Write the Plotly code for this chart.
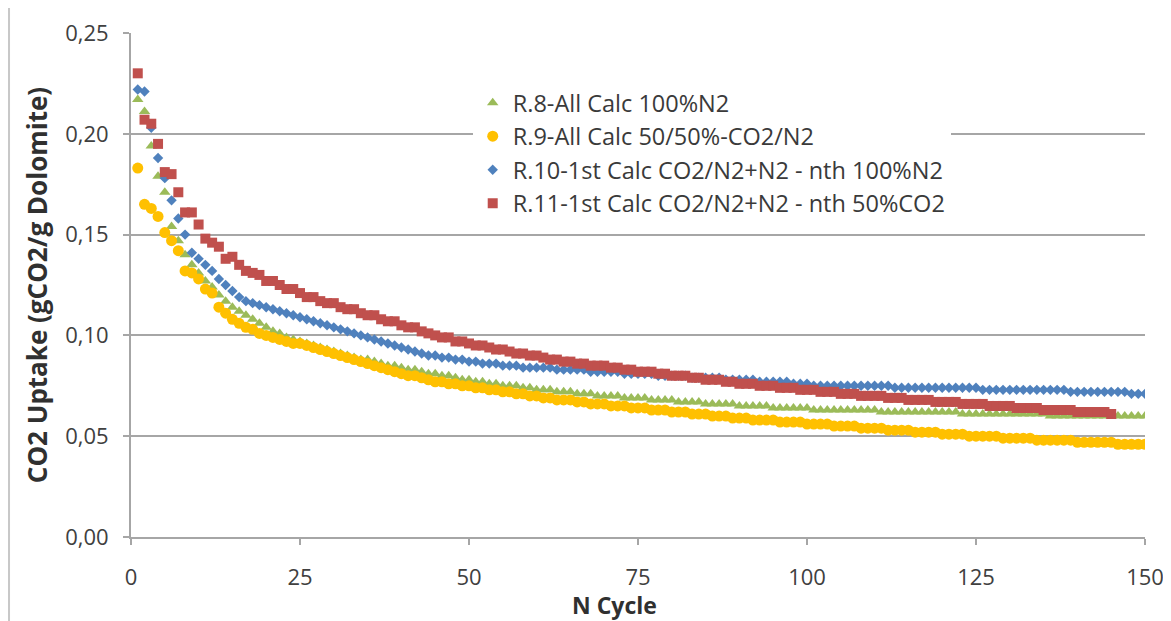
import plotly.graph_objects as go

cycles = list(range(1, 151))

r8_all_calc_100n2 = [
    0.217, 0.211, 0.194, 0.179, 0.171, 0.154, 0.147, 0.140, 0.135, 0.131,
    0.127, 0.124, 0.120, 0.117, 0.114, 0.112, 0.110, 0.108, 0.106, 0.104,
    0.102, 0.101, 0.099, 0.098, 0.097, 0.096, 0.095, 0.094, 0.093, 0.092,
    0.091, 0.090, 0.089, 0.088, 0.088, 0.087, 0.086, 0.085, 0.085, 0.084,
    0.083, 0.083, 0.082, 0.081, 0.081, 0.080, 0.080, 0.079, 0.078, 0.078,
    0.077, 0.077, 0.076, 0.076, 0.075, 0.075, 0.075, 0.074, 0.074, 0.073,
    0.073, 0.073, 0.072, 0.072, 0.072, 0.071, 0.071, 0.071, 0.070, 0.070,
    0.070, 0.070, 0.069, 0.069, 0.069, 0.069, 0.068, 0.068, 0.068, 0.068,
    0.067, 0.067, 0.067, 0.067, 0.066, 0.066, 0.066, 0.066, 0.066, 0.065,
    0.065, 0.065, 0.065, 0.065, 0.064, 0.064, 0.064, 0.064, 0.064, 0.064,
    0.063, 0.063, 0.063, 0.063, 0.063, 0.063, 0.063, 0.063, 0.063, 0.063,
    0.062, 0.062, 0.062, 0.062, 0.062, 0.062, 0.062, 0.062, 0.062, 0.062,
    0.062, 0.062, 0.061, 0.061, 0.061, 0.061, 0.061, 0.061, 0.061, 0.061,
    0.061, 0.061, 0.061, 0.061, 0.061, 0.060, 0.060, 0.060, 0.060, 0.060,
    0.060, 0.060, 0.060, 0.060, 0.060, 0.060, 0.060, 0.060, 0.060, 0.060,
]

r9_all_calc_5050 = [
    0.183, 0.165, 0.163, 0.159, 0.151, 0.147, 0.142, 0.132, 0.131, 0.128,
    0.123, 0.121, 0.114, 0.111, 0.108, 0.106, 0.104, 0.103, 0.101, 0.100,
    0.099, 0.098, 0.097, 0.096, 0.096, 0.095, 0.094, 0.093, 0.092, 0.091,
    0.090, 0.089, 0.088, 0.087, 0.086, 0.085, 0.084, 0.083, 0.082, 0.081,
    0.080, 0.080, 0.079, 0.078, 0.077, 0.077, 0.076, 0.076, 0.075, 0.075,
    0.074, 0.074, 0.073, 0.073, 0.072, 0.072, 0.071, 0.071, 0.070, 0.070,
    0.069, 0.069, 0.068, 0.068, 0.068, 0.067, 0.067, 0.066, 0.066, 0.066,
    0.065, 0.065, 0.065, 0.064, 0.064, 0.064, 0.063, 0.063, 0.063, 0.062,
    0.062, 0.062, 0.061, 0.061, 0.061, 0.060, 0.060, 0.060, 0.059, 0.059,
    0.059, 0.058, 0.058, 0.058, 0.058, 0.057, 0.057, 0.057, 0.057, 0.056,
    0.056, 0.056, 0.056, 0.055, 0.055, 0.055, 0.055, 0.054, 0.054, 0.054,
    0.054, 0.053, 0.053, 0.053, 0.053, 0.052, 0.052, 0.052, 0.052, 0.051,
    0.051, 0.051, 0.051, 0.050, 0.050, 0.050, 0.050, 0.050, 0.049, 0.049,
    0.049, 0.049, 0.049, 0.048, 0.048, 0.048, 0.048, 0.048, 0.048, 0.047,
    0.047, 0.047, 0.047, 0.047, 0.047, 0.046, 0.046, 0.046, 0.046, 0.046,
]

r10_first_co2n2_nth_100n2 = [
    0.222, 0.221, 0.203, 0.188, 0.178, 0.167, 0.158, 0.150, 0.141, 0.138,
    0.135, 0.132, 0.128, 0.125, 0.122, 0.119, 0.117, 0.116, 0.115, 0.114,
    0.113, 0.112, 0.111, 0.110, 0.109, 0.108, 0.107, 0.106, 0.105, 0.104,
    0.103, 0.102, 0.101, 0.100, 0.099, 0.098, 0.097, 0.096, 0.095, 0.094,
    0.093, 0.092, 0.091, 0.090, 0.090, 0.089, 0.089, 0.088, 0.088, 0.087,
    0.087, 0.086, 0.086, 0.086, 0.085, 0.085, 0.085, 0.084, 0.084, 0.084,
    0.084, 0.084, 0.083, 0.083, 0.083, 0.083, 0.083, 0.082, 0.082, 0.082,
    0.082, 0.082, 0.081, 0.081, 0.081, 0.081, 0.081, 0.080, 0.080, 0.080,
    0.080, 0.080, 0.079, 0.079, 0.079, 0.079, 0.079, 0.078, 0.078, 0.078,
    0.078, 0.078, 0.077, 0.077, 0.077, 0.077, 0.077, 0.076, 0.076, 0.076,
    0.075, 0.075, 0.075, 0.075, 0.075, 0.075, 0.075, 0.075, 0.075, 0.075,
    0.075, 0.075, 0.074, 0.074, 0.074, 0.074, 0.074, 0.074, 0.074, 0.074,
    0.074, 0.074, 0.074, 0.074, 0.074, 0.073, 0.073, 0.073, 0.073, 0.073,
    0.073, 0.073, 0.073, 0.073, 0.073, 0.073, 0.073, 0.073, 0.072, 0.072,
    0.072, 0.072, 0.072, 0.072, 0.072, 0.072, 0.072, 0.071, 0.071, 0.071,
]

r11_first_co2n2_nth_50co2 = [
    0.230, 0.207, 0.205, 0.195, 0.181, 0.180, 0.171, 0.161, 0.161, 0.155,
    0.148, 0.146, 0.144, 0.138, 0.139, 0.135, 0.132, 0.131, 0.130, 0.127,
    0.127, 0.125, 0.123, 0.123, 0.121, 0.119, 0.119, 0.117, 0.116, 0.116,
    0.114, 0.113, 0.113, 0.111, 0.110, 0.110, 0.108, 0.107, 0.107, 0.105,
    0.104, 0.104, 0.102, 0.101, 0.100, 0.099, 0.099, 0.097, 0.097, 0.096,
    0.095, 0.095, 0.094, 0.093, 0.093, 0.092, 0.091, 0.091, 0.090, 0.090,
    0.089, 0.088, 0.088, 0.087, 0.087, 0.086, 0.086, 0.085, 0.085, 0.085,
    0.084, 0.084, 0.083, 0.083, 0.082, 0.082, 0.082, 0.081, 0.081, 0.080,
    0.080, 0.080, 0.079, 0.079, 0.078, 0.078, 0.078, 0.077, 0.077, 0.076,
    0.076, 0.076, 0.075, 0.075, 0.075, 0.074, 0.074, 0.074, 0.073, 0.073,
    0.073, 0.072, 0.072, 0.072, 0.071, 0.071, 0.071, 0.070, 0.070, 0.070,
    0.070, 0.069, 0.069, 0.069, 0.068, 0.068, 0.068, 0.068, 0.067, 0.067,
    0.067, 0.067, 0.066, 0.066, 0.066, 0.066, 0.065, 0.065, 0.065, 0.065,
    0.064, 0.064, 0.064, 0.064, 0.063, 0.063, 0.063, 0.063, 0.063, 0.062,
    0.062, 0.062, 0.062, 0.062, 0.061,
]

series_names = [
    "R.8-All Calc 100%N2",
    "R.9-All Calc 50/50%-CO2/N2",
    "R.10-1st Calc CO2/N2+N2 - nth 100%N2",
    "R.11-1st Calc CO2/N2+N2 - nth 50%CO2",
]
x_ticks = [0, 25, 50, 75, 100, 125, 150]
y_ticks = [0.00, 0.05, 0.10, 0.15, 0.20, 0.25]
y_tick_labels = ["0,00", "0,05", "0,10", "0,15", "0,20", "0,25"]
x_title = "N Cycle"
y_title = "CO2 Uptake (gCO2/g Dolomite)"

fig = go.Figure()
fig.add_trace(go.Scatter(
    x=cycles[:len(r8_all_calc_100n2)], y=r8_all_calc_100n2, mode="markers",
    name=series_names[0], legendgroup="g1",
    marker=dict(symbol="triangle-up", size=10, color="#9BBB59")))
fig.add_trace(go.Scatter(
    x=cycles[:len(r9_all_calc_5050)], y=r9_all_calc_5050, mode="markers",
    name=series_names[1], legendgroup="g2",
    marker=dict(symbol="circle", size=11, color="#FFC000")))
fig.add_trace(go.Scatter(
    x=cycles[:len(r10_first_co2n2_nth_100n2)], y=r10_first_co2n2_nth_100n2, mode="markers",
    name=series_names[2], legendgroup="g3",
    marker=dict(symbol="diamond", size=8, color="#4F81BD")))
fig.add_trace(go.Scatter(
    x=cycles[:len(r11_first_co2n2_nth_50co2)], y=r11_first_co2n2_nth_50co2, mode="markers",
    name=series_names[3], legendgroup="g4",
    marker=dict(symbol="square", size=10, color="#C0504D")))

fig.update_layout(
    width=1163, height=613,
    paper_bgcolor="white", plot_bgcolor="white",
    margin=dict(l=123, r=26, t=25, b=84, autoexpand=False),
    font=dict(family="Open Sans, Lato, sans-serif", color="#404040", size=22),
    showlegend=True,
    legend=dict(
        x=0.337, y=0.905, xanchor="left", yanchor="top",
        bgcolor="white", borderwidth=0,
        font=dict(size=23.5, color="#3a3a3a"),
        tracegroupgap=0,
    ),
    xaxis=dict(
        range=[0, 150], tickvals=x_ticks, ticktext=[str(v) for v in x_ticks],
        showgrid=False, showline=True, linecolor="#a6a6a6", linewidth=2,
        ticks="outside", ticklen=6, tickcolor="#a6a6a6", tickwidth=1.5,
        zeroline=False, ticklabelstandoff=14,
        tickfont=dict(size=22, color="#404040"),
    ),
    yaxis=dict(
        range=[0, 0.25], tickvals=y_ticks, ticktext=y_tick_labels,
        showgrid=True, gridcolor="#a6a6a6", gridwidth=2,
        showline=True, linecolor="#a6a6a6", linewidth=2,
        ticks="outside", ticklen=6, tickcolor="#a6a6a6", tickwidth=1.5,
        zeroline=False, ticklabelstandoff=10,
        title=dict(text="<b>" + y_title + "</b>", font=dict(size=26, color="#303030"), standoff=10),
        tickfont=dict(size=22, color="#404040"),
    ),
)

fig.add_annotation(text="<b>" + x_title + "</b>", xref="paper", yref="paper",
                   x=0.477, y=-0.135, xanchor="center", yanchor="middle", showarrow=False,
                   font=dict(size=23, color="#303030"))

fig.add_shape(type="line", xref="paper", yref="paper", x0=-0.1203, x1=-0.1203, y0=-0.17, y1=1.05,
              line=dict(color="#c8c8c8", width=2))

fig.write_html("out.html")
